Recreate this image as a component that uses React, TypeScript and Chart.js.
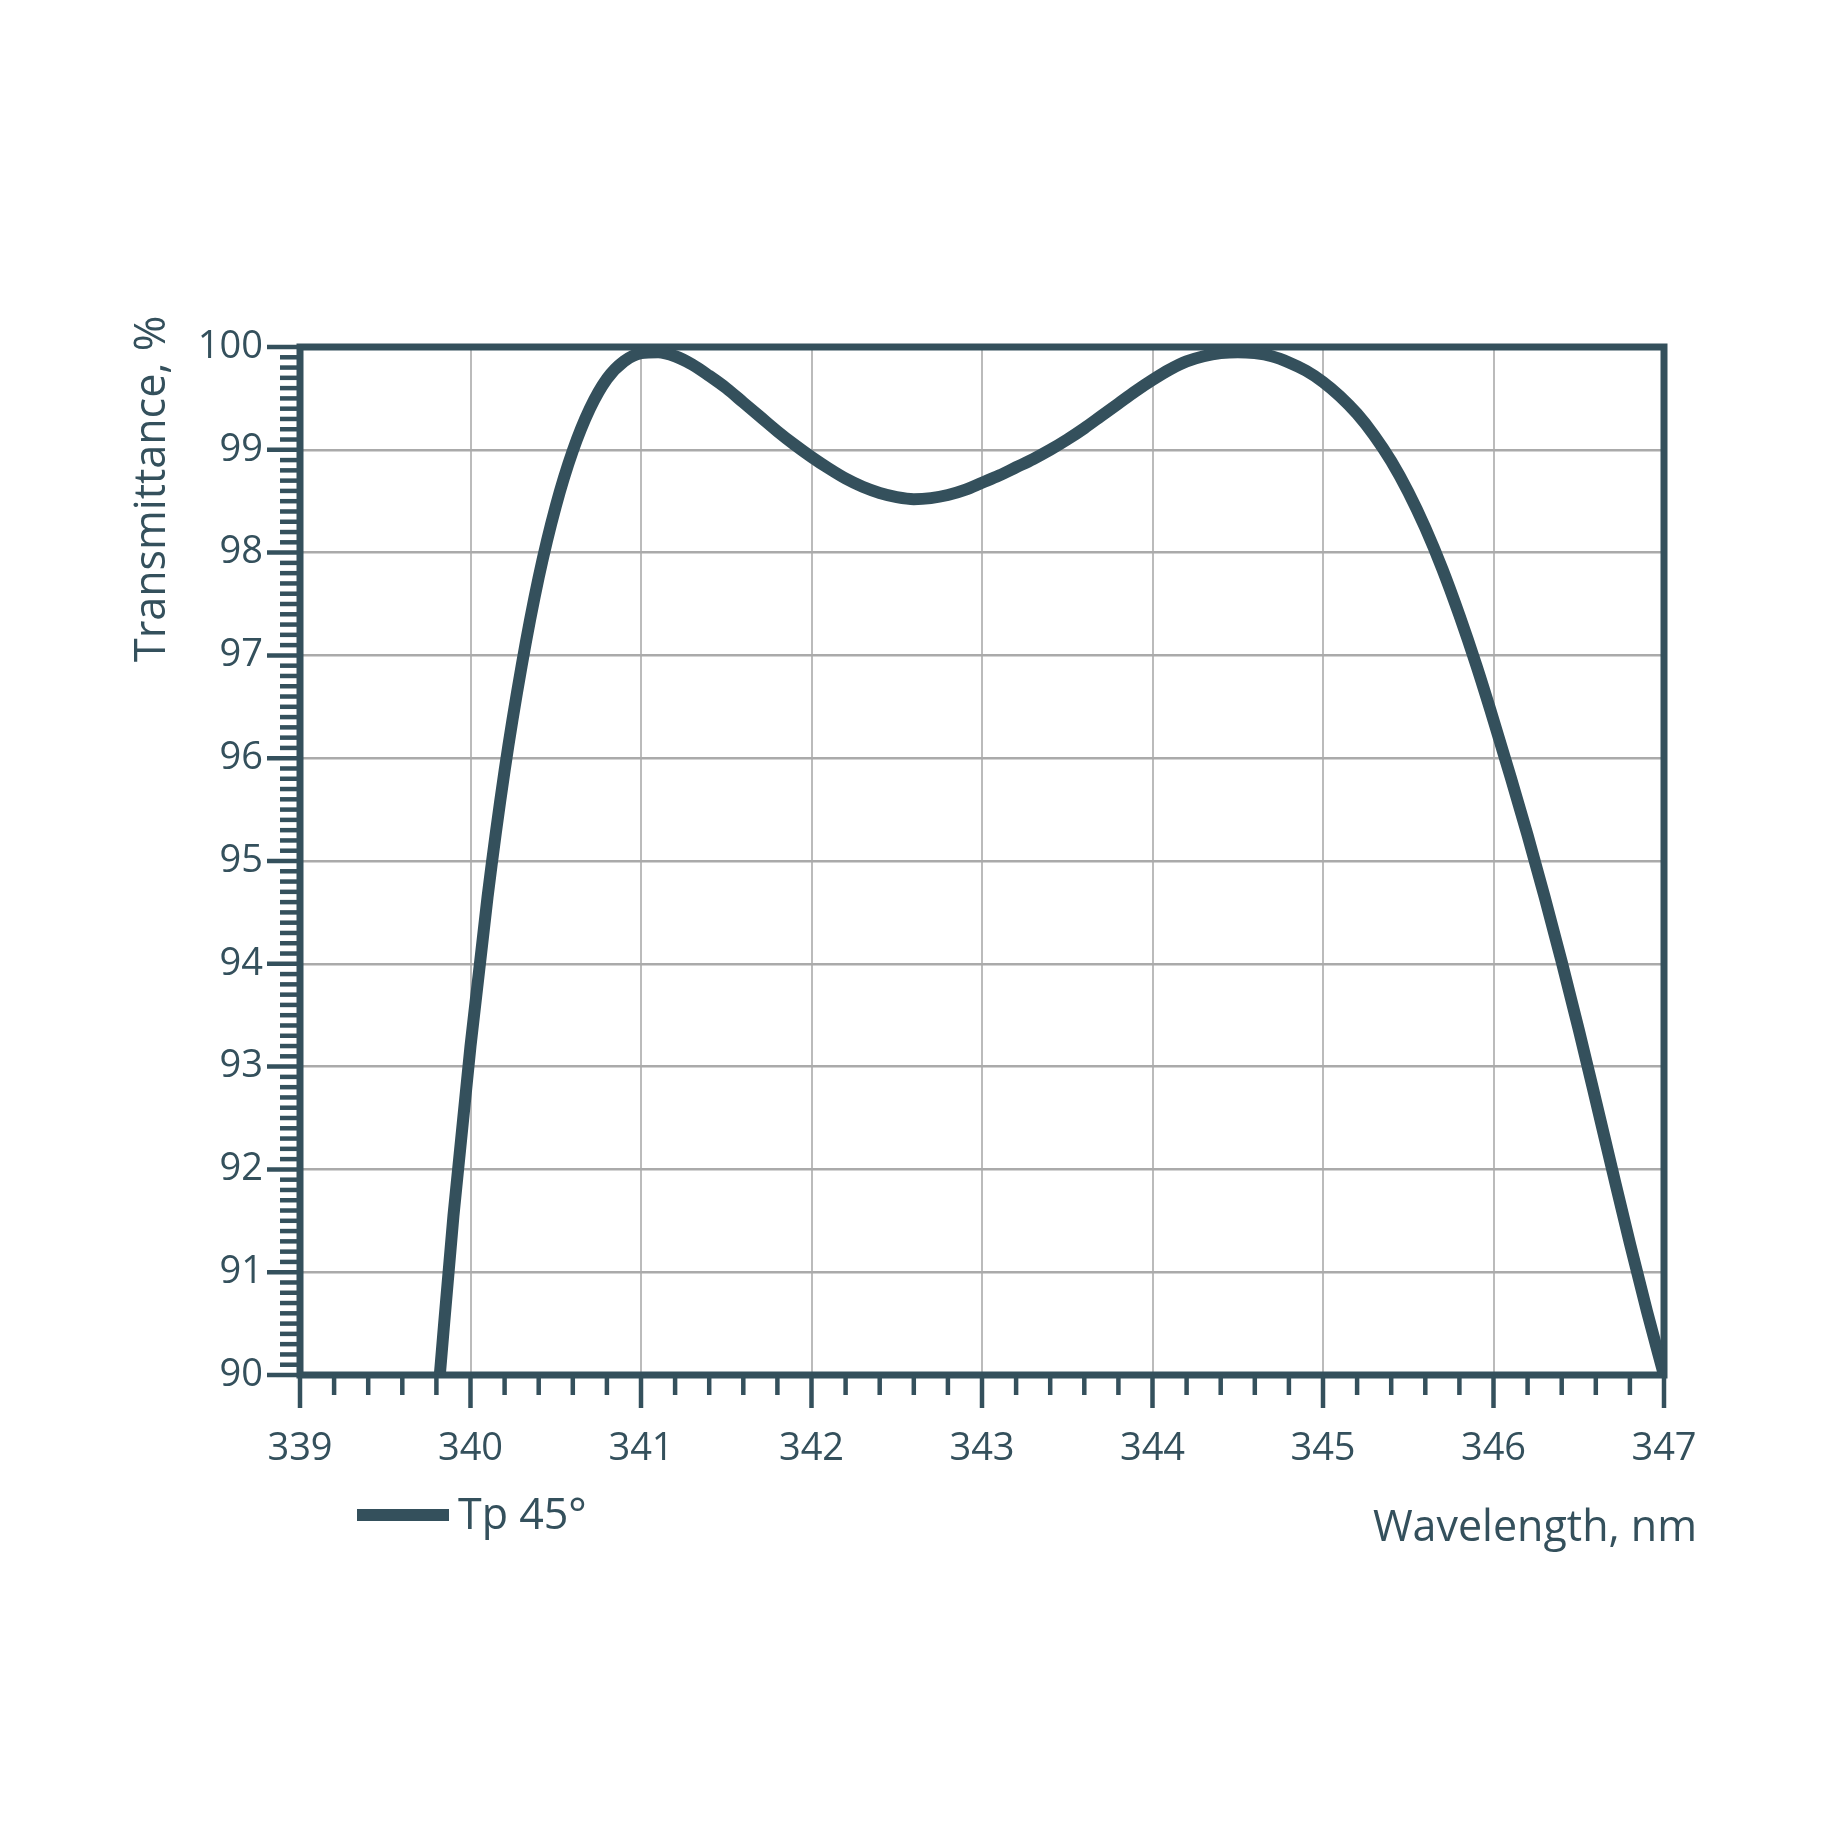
import React, { useEffect, useRef } from 'react';
import { Chart, registerables } from 'chart.js';

Chart.register(...registerables);

// Transmittance curve, every 0.1 nm
const wavelengths = [
  339.82, 339.9, 340.0, 340.1, 340.2, 340.3, 340.4, 340.5, 340.6, 340.7,
  340.8, 340.9, 341.0, 341.1, 341.2, 341.3, 341.4, 341.5, 341.6, 341.7,
  341.8, 341.9, 342.0, 342.1, 342.2, 342.3, 342.4, 342.5, 342.6, 342.7,
  342.8, 342.9, 343.0, 343.1, 343.2, 343.3, 343.4, 343.5, 343.6, 343.7,
  343.8, 343.9, 344.0, 344.1, 344.2, 344.3, 344.4, 344.5, 344.6, 344.7,
  344.8, 344.9, 345.0, 345.1, 345.2, 345.3, 345.4, 345.5, 345.6, 345.7,
  345.8, 345.9, 346.0, 346.1, 346.2, 346.3, 346.4, 346.5, 346.6, 346.7,
  346.8, 346.9, 347.0,
];
const transmittance = [
  90.0, 91.55, 93.2, 94.65, 95.88, 96.9, 97.76, 98.45, 98.99, 99.4,
  99.69, 99.86, 99.94, 99.95, 99.91, 99.83, 99.72, 99.6, 99.46, 99.32,
  99.18, 99.05, 98.93, 98.82, 98.72, 98.64, 98.58, 98.54, 98.52, 98.53,
  98.56, 98.61, 98.68, 98.75, 98.83, 98.91, 99.0, 99.1, 99.21, 99.33,
  99.45, 99.57, 99.68, 99.78, 99.86, 99.91, 99.94, 99.95, 99.94, 99.91,
  99.85, 99.77, 99.66, 99.52, 99.35, 99.14, 98.89, 98.59, 98.24, 97.84,
  97.39, 96.9, 96.37, 95.82, 95.25, 94.65, 94.02, 93.36, 92.67, 91.97,
  91.28, 90.62, 90.0,
];

const seriesLabel = 'Tp 45°';
const xTitle = 'Wavelength, nm';
const yTitle = 'Transmittance, %';

const xRange = [339, 347];
const yRange = [90, 100];
const xMinorStep = 0.2;
const yMinorStep = 0.1;

const INK = '#34505c';
const GRID = '#aaaaaa';
const FONT = '"Open Sans", sans-serif';

const framePlugin = {
  id: 'frame',
  beforeDatasetsDraw(chart: any) {
    const { ctx, chartArea: a, scales } = chart;
    const xs = scales.x;
    const ys = scales.y;
    ctx.save();
    ctx.strokeStyle = INK;
    ctx.lineCap = 'butt';

    // tick marks: majors long, minors short
    ctx.lineWidth = 4.5;
    const nx = Math.round((xRange[1] - xRange[0]) / xMinorStep);
    for (let i = 0; i <= nx; i++) {
      const x = xs.getPixelForValue(xRange[0] + i * xMinorStep);
      const len = i % 5 === 0 ? 33 : 20;
      ctx.beginPath();
      ctx.moveTo(x, a.bottom);
      ctx.lineTo(x, a.bottom + len);
      ctx.stroke();
    }
    const ny = Math.round((yRange[1] - yRange[0]) / yMinorStep);
    for (let i = 0; i <= ny; i++) {
      const y = ys.getPixelForValue(yRange[0] + i * yMinorStep);
      const len = i % 10 === 0 ? 33 : 20;
      ctx.beginPath();
      ctx.moveTo(a.left - len, y);
      ctx.lineTo(a.left, y);
      ctx.stroke();
    }

    // plot frame
    ctx.lineWidth = 7;
    ctx.strokeRect(a.left, a.top, a.right - a.left, a.bottom - a.top);
    ctx.restore();
  },
  afterDraw(chart: any) {
    const { ctx } = chart;
    const ds = chart.data.datasets[0];
    ctx.save();
    ctx.fillStyle = INK;
    ctx.font = `43px ${FONT}`;
    ctx.textBaseline = 'alphabetic';

    // x title, right aligned past the frame
    ctx.textAlign = 'right';
    ctx.fillText(xTitle, 1697, 1541);

    // y title, rotated, sitting near the top
    ctx.save();
    ctx.translate(165, 662);
    ctx.rotate(-Math.PI / 2);
    ctx.textAlign = 'left';
    ctx.fillText(yTitle, 0, 0);
    ctx.restore();

    // legend
    ctx.strokeStyle = ds.borderColor;
    ctx.lineWidth = 12;
    ctx.lineCap = 'butt';
    ctx.beginPath();
    ctx.moveTo(357, 1515);
    ctx.lineTo(449, 1515);
    ctx.stroke();
    ctx.textAlign = 'left';
    ctx.fillText(ds.label, 458, 1529);
    ctx.restore();
  },
};

export default function App() {
  const canvasRef = useRef<HTMLCanvasElement>(null);

  useEffect(() => {
    if (!canvasRef.current) return;
    const chart = new Chart(canvasRef.current, {
      type: 'line',
      data: {
        datasets: [
          {
            label: seriesLabel,
            data: wavelengths.map((w, i) => ({ x: w, y: transmittance[i] })),
            borderColor: INK,
            borderWidth: 12,
            pointRadius: 0,
            cubicInterpolationMode: 'monotone',
            fill: false,
          },
        ],
      },
      options: {
        responsive: false,
        animation: false,
        devicePixelRatio: 1,
        layout: { padding: { left: 180, right: 184, top: 347, bottom: 373 } },
        plugins: {
          legend: { display: false },
          tooltip: { enabled: false },
        },
        scales: {
          x: {
            type: 'linear',
            min: xRange[0],
            max: xRange[1],
            afterFit: (scale: any) => {
              scale.height = 100;
            },
            border: { display: false },
            grid: { color: '#bbbbbb', lineWidth: 2, drawTicks: false },
            ticks: {
              stepSize: 1,
              autoSkip: false,
              maxRotation: 0,
              padding: 51,
              color: INK,
              font: { family: FONT, size: 38 },
              callback: (v: any) => String(v),
            },
          },
          y: {
            min: yRange[0],
            max: yRange[1],
            afterFit: (scale: any) => {
              scale.width = 120;
            },
            border: { display: false },
            grid: { color: GRID, lineWidth: 2.5, drawTicks: false },
            ticks: {
              stepSize: 1,
              autoSkip: false,
              padding: 37,
              color: INK,
              font: { family: FONT, size: 38 },
              callback: (v: any) => String(v),
            },
          },
        },
      },
      plugins: [framePlugin],
    });
    return () => chart.destroy();
  }, []);

  return (
    <div style={{ position: 'fixed', left: 0, top: 0, width: 1848, height: 1848, background: '#fff' }}>
      <canvas ref={canvasRef} width={1848} height={1848} />
    </div>
  );
}
